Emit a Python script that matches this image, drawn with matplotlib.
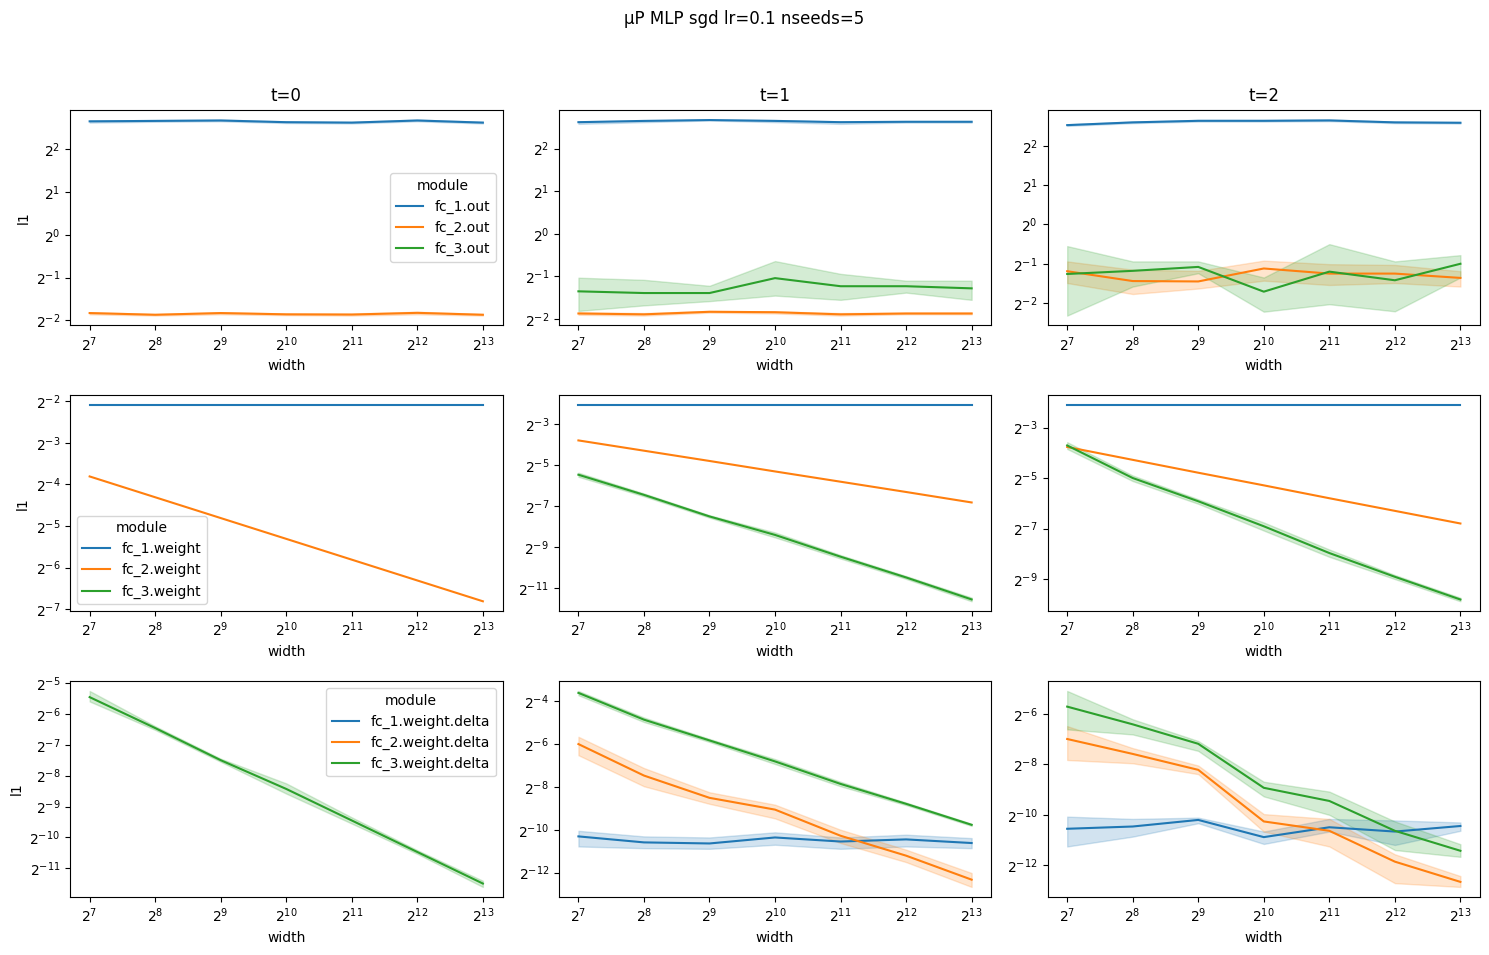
import numpy as np
import matplotlib
matplotlib.use("Agg")
import matplotlib.pyplot as plt

widths = [128, 256, 512, 1024, 2048, 4096, 8192]
times = ["t=0", "t=1", "t=2"]
colors = {"fc_1": "#1f77b4", "fc_2": "#ff7f0e", "fc_3": "#2ca02c"}
suptitle = "μP MLP sgd lr=0.1 nseeds=5"

# values stored as log2 exponents: (mean, lower, upper); None = not drawn (zero)
# Row 0: outputs
out_t0 = {
    "fc_1.out": ([2.65, 2.66, 2.67, 2.63, 2.62, 2.67, 2.62],
                 [2.62, 2.64, 2.65, 2.61, 2.60, 2.65, 2.60],
                 [2.67, 2.68, 2.69, 2.65, 2.64, 2.69, 2.64]),
    "fc_2.out": ([-1.83, -1.87, -1.83, -1.86, -1.865, -1.825, -1.87],
                 [-1.86, -1.89, -1.86, -1.88, -1.89, -1.86, -1.89],
                 [-1.81, -1.85, -1.81, -1.84, -1.84, -1.80, -1.85]),
    "fc_3.out": None,
}
out_t1 = {
    "fc_1.out": ([2.62, 2.65, 2.67, 2.65, 2.62, 2.63, 2.63],
                 [2.58, 2.62, 2.66, 2.62, 2.58, 2.61, 2.61],
                 [2.64, 2.66, 2.68, 2.67, 2.64, 2.64, 2.64]),
    "fc_2.out": ([-1.87, -1.89, -1.83, -1.84, -1.89, -1.87, -1.87],
                 [-1.90, -1.92, -1.85, -1.87, -1.92, -1.89, -1.89],
                 [-1.84, -1.86, -1.81, -1.82, -1.86, -1.85, -1.85]),
    "fc_3.out": ([-1.35, -1.39, -1.39, -1.04, -1.23, -1.23, -1.28],
                 [-1.81, -1.68, -1.58, -1.45, -1.55, -1.38, -1.55],
                 [-1.03, -1.08, -1.22, -0.64, -0.94, -1.10, -1.10]),
}
out_t2 = {
    "fc_1.out": ([2.53, 2.60, 2.64, 2.64, 2.65, 2.60, 2.59],
                 [2.51, 2.58, 2.62, 2.62, 2.63, 2.58, 2.57],
                 [2.55, 2.62, 2.66, 2.66, 2.67, 2.62, 2.61]),
    "fc_2.out": ([-1.19, -1.44, -1.45, -1.12, -1.25, -1.25, -1.36],
                 [-1.49, -1.77, -1.63, -1.43, -1.54, -1.49, -1.58],
                 [-0.94, -1.15, -1.18, -0.92, -1.01, -1.03, -1.19]),
    "fc_3.out": ([-1.26, -1.18, -1.08, -1.71, -1.20, -1.42, -1.00],
                 [-2.32, -1.58, -1.24, -2.22, -2.03, -2.21, -1.35],
                 [-0.55, -0.94, -0.94, -1.35, -0.50, -0.94, -0.78]),
}

# Row 1: weights
w_t0 = {
    "fc_1.weight": ([-2.10] * 7, None, None),
    "fc_2.weight": ([-3.81, -4.31, -4.81, -5.31, -5.81, -6.31, -6.81], None, None),
    "fc_3.weight": None,
}
w_t1 = {
    "fc_1.weight": ([-2.09] * 7, None, None),
    "fc_2.weight": ([-3.80, -4.30, -4.80, -5.31, -5.81, -6.31, -6.82], None, None),
    "fc_3.weight": ([-5.47, -6.45, -7.50, -8.40, -9.46, -10.47, -11.54],
                    [-5.57, -6.52, -7.56, -8.52, -9.55, -10.54, -11.63],
                    [-5.37, -6.38, -7.44, -8.28, -9.38, -10.40, -11.45]),
}
w_t2 = {
    "fc_1.weight": ([-2.12] * 7, None, None),
    "fc_2.weight": ([-3.77, -4.28, -4.79, -5.29, -5.80, -6.30, -6.80], None, None),
    "fc_3.weight": ([-3.71, -5.00, -5.92, -6.91, -7.97, -8.91, -9.81],
                    [-3.85, -5.12, -6.02, -7.08, -8.12, -9.00, -9.88],
                    [-3.58, -4.90, -5.84, -6.76, -7.83, -8.84, -9.74]),
}

# Row 2: weight deltas
d_t0 = {
    "fc_1.weight.delta": None,
    "fc_2.weight.delta": None,
    "fc_3.weight.delta": ([-5.46, -6.46, -7.50, -8.43, -9.45, -10.47, -11.49],
                          [-5.60, -6.52, -7.55, -8.58, -9.55, -10.53, -11.60],
                          [-5.26, -6.40, -7.45, -8.25, -9.35, -10.41, -11.40]),
}
d_t1 = {
    "fc_1.weight.delta": ([-10.31, -10.59, -10.64, -10.36, -10.55, -10.45, -10.62],
                          [-10.78, -10.86, -10.89, -10.70, -10.89, -10.78, -10.86],
                          [-10.05, -10.31, -10.36, -10.12, -10.36, -10.23, -10.39]),
    "fc_2.weight.delta": ([-6.00, -7.47, -8.51, -9.06, -10.28, -11.21, -12.33],
                          [-6.52, -7.97, -8.79, -9.47, -10.62, -11.51, -12.67],
                          [-5.66, -7.12, -8.25, -8.83, -10.00, -10.93, -12.02]),
    "fc_3.weight.delta": ([-3.61, -4.86, -5.83, -6.81, -7.86, -8.79, -9.77],
                          [-3.72, -4.97, -5.90, -6.93, -7.97, -8.85, -9.82],
                          [-3.52, -4.76, -5.76, -6.70, -7.76, -8.73, -9.72]),
}
d_t2 = {
    "fc_1.weight.delta": ([-10.55, -10.46, -10.20, -10.88, -10.49, -10.66, -10.44],
                          [-11.25, -10.86, -10.33, -11.15, -10.66, -11.19, -10.63],
                          [-10.07, -10.16, -10.11, -10.66, -10.16, -10.22, -10.30]),
    "fc_2.weight.delta": ([-7.00, -7.59, -8.22, -10.26, -10.63, -11.85, -12.65],
                          [-7.83, -7.96, -8.39, -10.66, -11.25, -12.70, -12.85],
                          [-6.49, -7.36, -8.05, -9.97, -10.16, -11.56, -12.42]),
    "fc_3.weight.delta": ([-5.72, -6.42, -7.19, -8.93, -9.45, -10.63, -11.42],
                          [-6.62, -6.82, -7.47, -9.27, -10.00, -11.39, -11.66],
                          [-5.10, -6.22, -7.08, -8.69, -9.08, -10.26, -11.16]),
}

grid = [[out_t0, out_t1, out_t2], [w_t0, w_t1, w_t2], [d_t0, d_t1, d_t2]]
legend_locs = ["center right", "lower left", "upper right"]

fig, axes = plt.subplots(3, 3, figsize=(14.89, 9.55), dpi=100)
fig.subplots_adjust(left=0.047, right=0.994, top=0.885, bottom=0.061,
                    wspace=0.13, hspace=0.325)
fig.suptitle(suptitle, y=0.990, fontsize=12)

x = np.array(widths, dtype=float)
for r in range(3):
    for c in range(3):
        ax = axes[r, c]
        data = grid[r][c]
        for name, vals in data.items():
            col = colors[name[:4]]
            if vals is None:
                ax.plot([], [], color=col, label=name)
                continue
            mean, lo, hi = vals
            ax.plot(x, np.exp2(mean), color=col, lw=1.5, label=name)
            if lo is not None:
                ax.fill_between(x, np.exp2(lo), np.exp2(hi), color=col, alpha=0.2)
        ax.set_xscale("log", base=2)
        ax.set_yscale("log", base=2)
        ax.set_xticks(widths)
        ax.set_xlabel("width")
        if c == 0:
            ax.set_ylabel("l1")
            ax.legend(title="module", loc=legend_locs[r])
        if r == 0:
            ax.set_title(times[c], fontsize=12)

fig.savefig("out.png", dpi=100)
